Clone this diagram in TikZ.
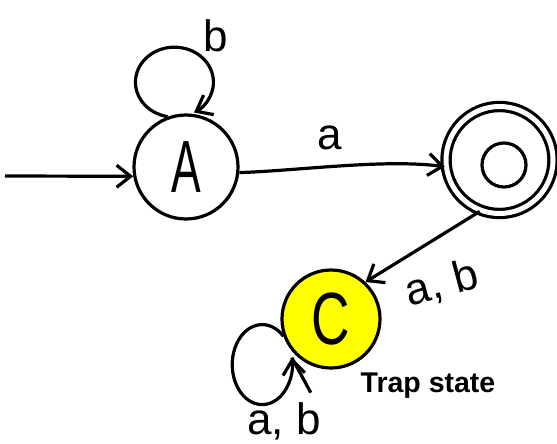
\documentclass[tikz,border=0pt]{standalone}
\usepackage{fontspec}
\setmainfont{Liberation Sans}
\usetikzlibrary{arrows.meta}
\definecolor{trapfill}{RGB}{255,255,0}
\begin{document}
\begin{tikzpicture}[x=1pt, y=-1pt, line width=3.2pt,
  state/.style={circle, draw, inner sep=0pt},
  tip/.style={-{Straight Barb[length=14pt, width=22pt, line width=3.2pt]}},
  lbl/.style={font=\fontsize{44}{48}\selectfont, inner sep=0pt},
  big/.style={font=\fontsize{74}{80}\selectfont}]
\useasboundingbox (0,0) rectangle (557,444);

% states
\node[state, big, minimum size=104pt] (A) at (186,167) {\scalebox{0.6}[1]{A}};
\node[state, double, double distance=5pt, minimum size=107pt] (B) at (499.5,160) {};
\node[state, minimum size=44pt] (Bo) at (504,165) {};
\node[state, big, fill=trapfill, minimum size=98pt] (C) at (331,319) {\scalebox{0.72}[1]{C}};

% start arrow
\coordinate (init) at (5,176);
\draw[tip] (init) -- (A.190);

% transitions
\draw[tip] (A.-6) .. controls +(60,-2) and +(-60,-8) .. (B.187);
\draw[tip] (B.-111) -- (C.47);

% self-loops
\draw[tip] (A.110) arc[start angle=100, end angle=420, x radius=39, y radius=35];
\draw[tip] (C.200) arc[start angle=-45, end angle=-370, x radius=30, y radius=40] coordinate (cl);
\draw (cl) -- ++(19,35);

% labels
\node[lbl] (lb) at (216,36) {b};
\node[lbl] (la) at (330,138) {a};
\node[lbl, rotate=15] (lab) at (442,284) {a, b};
\node[lbl] (lab2) at (284,421) {a, b};
\node[font=\fontsize{28.5}{31}\selectfont\bfseries, inner sep=0pt] (trap) at (428,386) {Trap state};
\end{tikzpicture}
\end{document}
